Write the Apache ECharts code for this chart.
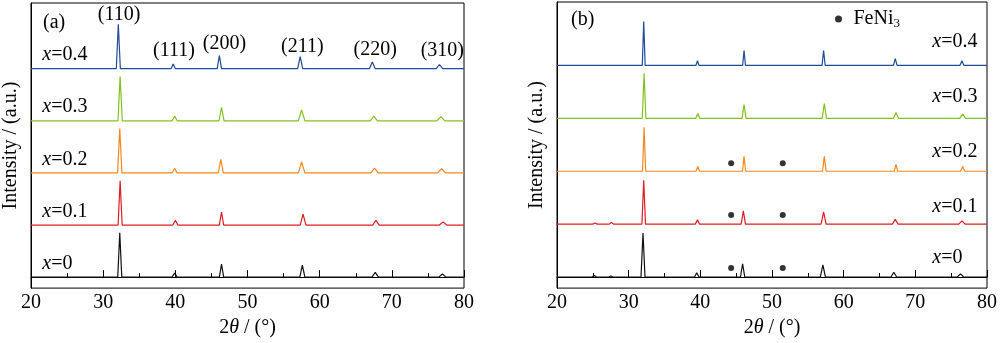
<!DOCTYPE html>
<html>
<head>
<meta charset="utf-8">
<script src="https://cdn.jsdelivr.net/npm/echarts@6/dist/echarts.min.js"></script>
<style>
  html, body { margin: 0; padding: 0; background: #fff; }
  #chart { width: 1000px; height: 343px; }
</style>
</head>
<body>
<div id="chart"></div>
<script>
// XRD patterns, panel (a) and panel (b); intensities in arbitrary units
const xMin = 20, xMax = 80;
const compositions = ['0', '0.1', '0.2', '0.3', '0.4'];
const offsets = [0, 100, 200, 300, 400];
const colors = ['#111111', '#e01d22', '#f7861f', '#82c21e', '#1e4b9b'];

// Panel (a): peak positions (2θ), peak intensities, half base widths, per composition
const posA = [
  [32.3, 39.9, 46.4, 57.6, 67.7, 77.0],
  [32.35, 40.0, 46.4, 57.7, 67.8, 77.1],
  [32.3, 39.9, 46.3, 57.5, 67.6, 76.9],
  [32.35, 39.9, 46.4, 57.5, 67.5, 76.8],
  [32.1, 39.7, 46.1, 57.3, 67.3, 76.6]
];
const intA = [
  [85, 8, 25, 23, 9, 6],
  [85, 9, 25, 21, 9, 6],
  [85, 9, 26, 21, 9, 8],
  [85, 9, 26, 21, 9, 8],
  [85, 9, 25, 23, 13, 8]
];
const halfA = [
  [0.28, 0.35, 0.3, 0.35, 0.45, 0.5],
  [0.28, 0.35, 0.3, 0.4, 0.45, 0.5],
  [0.3, 0.35, 0.35, 0.45, 0.5, 0.55],
  [0.3, 0.35, 0.35, 0.45, 0.5, 0.55],
  [0.28, 0.3, 0.3, 0.35, 0.4, 0.45]
];
const hklLabels = ['(110)', '(111)', '(200)', '(211)', '(220)', '(310)'];
const hklX = [32.2, 39.8, 46.8, 57.6, 67.7, 77.0];
const hklY = [504, 434, 447, 443, 436, 434];

// Panel (b)
const posB = [
  [25.2, 27.5, 32.0, 39.5, 45.9, 57.1, 67.0, 76.3],
  [25.3, 27.6, 32.1, 39.6, 46.0, 57.2, 67.2, 76.5],
  [32.15, 39.65, 46.1, 57.3, 67.3, 76.6],
  [32.15, 39.65, 46.1, 57.3, 67.3, 76.6],
  [32.1, 39.6, 46.1, 57.2, 67.2, 76.5]
];
const intB = [
  [3, 2, 83, 8, 25, 23, 9, 6],
  [2, 3, 83, 8, 25, 23, 9, 6],
  [83, 9, 28, 28, 13, 9],
  [85, 9, 26, 28, 11, 8],
  [83, 9, 28, 28, 13, 9]
];
const halfB = [
  [0.3, 0.3, 0.28, 0.3, 0.3, 0.35, 0.4, 0.45],
  [0.3, 0.3, 0.25, 0.3, 0.3, 0.35, 0.4, 0.45],
  [0.22, 0.25, 0.22, 0.25, 0.25, 0.3],
  [0.25, 0.28, 0.28, 0.3, 0.35, 0.4],
  [0.2, 0.22, 0.2, 0.22, 0.25, 0.28]
];
// FeNi3 reflections marked on the lower three patterns
const feni3Pos = [44.3, 51.5];
const feni3Rows = [0, 1, 2];
const feni3Lift = [17, 17, 15];
// composition label heights above each baseline in panel (b)
const labelLiftB = [36, 32, 36, 40, 45];

const FONT = '"Liberation Serif", "Times New Roman", serif';
const italicRich = { i: { fontStyle: 'italic', fontFamily: FONT, fontSize: 20, color: '#000' } };

function trace(pos, inten, half, offset) {
  const pts = [[xMin, offset]];
  pos.forEach((p, k) => {
    pts.push([p - half[k], offset], [p, offset + inten[k]], [p + half[k], offset]);
  });
  pts.push([xMax, offset]);
  return pts;
}

function xAxisCfg(gridIndex, margin, nameGap) {
  return {
    type: 'value', gridIndex, min: xMin, max: xMax, interval: 10,
    name: '2{i|θ} / (°)', nameLocation: 'middle', nameGap,
    nameTextStyle: { fontFamily: FONT, fontSize: 20, color: '#000', rich: italicRich },
    axisLine: { lineStyle: { color: '#000', width: 1 } },
    axisTick: { inside: true, length: 7, lineStyle: { color: '#000' } },
    minorTick: { show: true, splitNumber: 2, length: 4, lineStyle: { color: '#000' } },
    axisLabel: { margin, fontFamily: FONT, fontSize: 20, color: '#000' },
    splitLine: { show: false }
  };
}
function yAxisCfg(gridIndex, max) {
  return {
    type: 'value', gridIndex, min: -21, max,
    name: 'Intensity / (a.u.)', nameLocation: 'middle', nameGap: 10,
    nameTextStyle: { fontFamily: FONT, fontSize: 20, color: '#000' },
    axisLine: { show: true, lineStyle: { color: '#000', width: 1 } },
    axisTick: { show: false }, axisLabel: { show: false }, splitLine: { show: false }
  };
}

const series = [];
compositions.forEach((c, k) => {
  const labelA = {
    coord: [21.5, offsets[k] + 26],
    label: { formatter: '{i|x}=' + c, position: 'right', distance: 0 }
  };
  const markA = [labelA];
  if (k === 4) {
    hklLabels.forEach((t, j) => markA.push({
      coord: [hklX[j], hklY[j]], label: { formatter: t, position: 'inside' }
    }));
  }
  series.push({
    type: 'line', xAxisIndex: 0, yAxisIndex: 0, name: 'a x=' + c,
    data: trace(posA[k], intA[k], halfA[k], offsets[k]),
    showSymbol: false, symbol: 'none', animation: false,
    lineStyle: { color: colors[k], width: 1.2 }, itemStyle: { color: colors[k] },
    markPoint: {
      symbol: 'circle', symbolSize: 1, itemStyle: { color: 'transparent' }, animation: false,
      label: { fontFamily: FONT, fontSize: 20, color: '#000', rich: italicRich },
      data: markA
    }
  });
  series.push({
    type: 'line', xAxisIndex: 1, yAxisIndex: 1, name: 'b x=' + c,
    data: trace(posB[k], intB[k], halfB[k], offsets[k]),
    showSymbol: false, symbol: 'none', animation: false,
    lineStyle: { color: colors[k], width: 1.2 }, itemStyle: { color: colors[k] },
    markPoint: {
      symbol: 'circle', symbolSize: 1, itemStyle: { color: 'transparent' }, animation: false,
      label: { fontFamily: FONT, fontSize: 20, color: '#000', rich: italicRich },
      data: [{
        coord: [72.3, offsets[k] + labelLiftB[k]],
        label: { formatter: '{i|x}=' + c, position: 'right', distance: 0 }
      }]
    }
  });
});

const feniData = [];
feni3Rows.forEach((r, k) => {
  feni3Pos.forEach(p => feniData.push([p, offsets[r] + feni3Lift[k]]));
});
series.push({
  type: 'scatter', name: 'FeNi3', xAxisIndex: 1, yAxisIndex: 1,
  data: feniData, symbol: 'circle', symbolSize: 6, animation: false,
  itemStyle: { color: '#000' }
});

const chart = echarts.init(document.getElementById('chart'), null, { renderer: 'canvas' });
chart.setOption({
  backgroundColor: '#fff',
  animation: false,
  textStyle: { fontFamily: FONT, fontSize: 20, color: '#000' },
  title: [
    { text: '(a)', left: 38, top: 8, textStyle: { fontFamily: FONT, fontSize: 20, fontWeight: 'normal', color: '#000' } },
    { text: '(b)', left: 566, top: 5, textStyle: { fontFamily: FONT, fontSize: 20, fontWeight: 'normal', color: '#000' } }
  ],
  legend: {
    data: [{ name: 'FeNi3', icon: 'circle' }],
    left: 830, top: 4, itemWidth: 20, itemHeight: 7, itemGap: 0,
    formatter: () => 'FeNi{s|3}',
    textStyle: {
      fontFamily: FONT, fontSize: 20, color: '#000',
      rich: { s: { fontFamily: FONT, fontSize: 13, color: '#000', verticalAlign: 'bottom', padding: [10, 0, 0, 0] } }
    }
  },
  grid: [
    { left: 30, top: 3, width: 434, height: 290, show: true, borderColor: '#000', borderWidth: 1 },
    { left: 557, top: 2, width: 434, height: 287, show: true, borderColor: '#000', borderWidth: 1 }
  ],
  xAxis: [xAxisCfg(0, 5, 29), xAxisCfg(1, 5, 26)],
  yAxis: [yAxisCfg(0, 526), yAxisCfg(1, 520)],
  series
});
</script>
</body>
</html>
